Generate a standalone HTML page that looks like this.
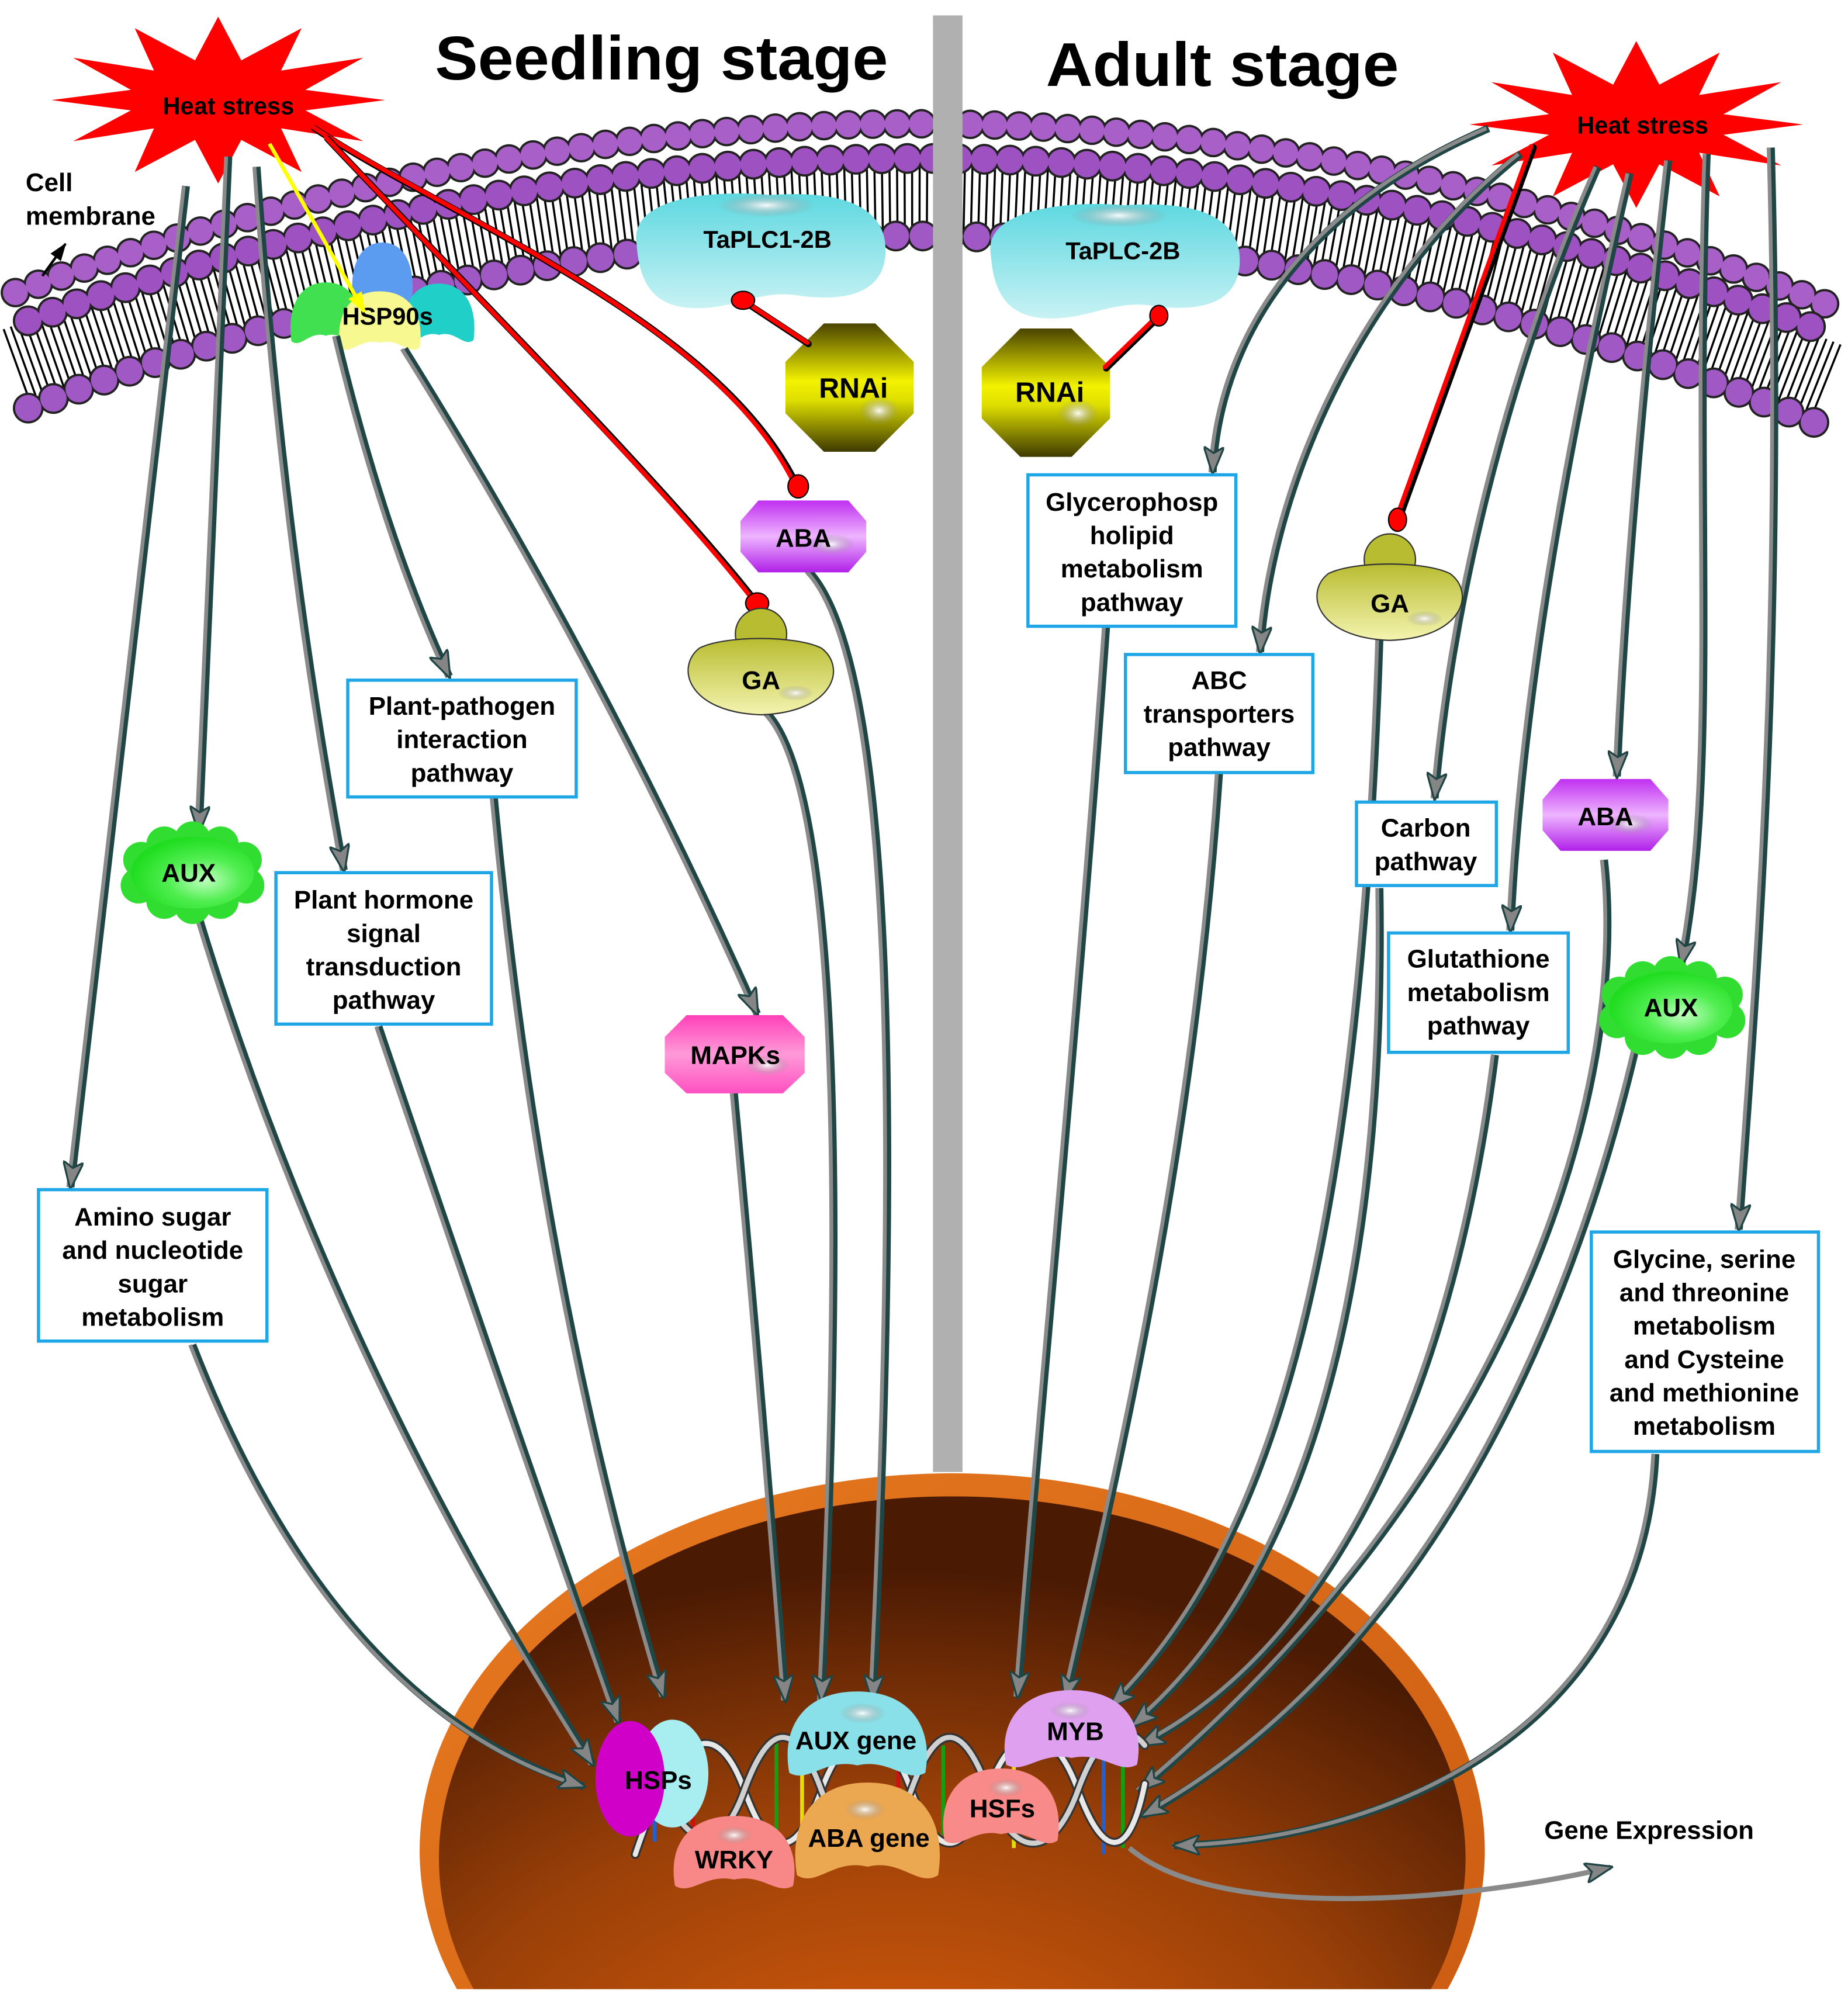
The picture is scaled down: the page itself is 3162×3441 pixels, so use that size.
<!DOCTYPE html>
<html><head><meta charset="utf-8"><style>
html,body{margin:0;padding:0;background:#fff;width:3162px;height:3441px;overflow:hidden;}
svg{display:block;}
text{font-family:"Liberation Sans",Arial,sans-serif;font-weight:bold;fill:#000;}
</style></head><body>
<svg width="3162" height="3441" viewBox="0 0 1440 1567" preserveAspectRatio="none" xmlns="http://www.w3.org/2000/svg">
<defs>
<linearGradient id="oct" x1="0" y1="0" x2="0" y2="1"><stop offset="0" stop-color="#4a4400"/><stop offset="0.45" stop-color="#f2f200"/><stop offset="0.6" stop-color="#dede00"/><stop offset="1" stop-color="#3e3a00"/></linearGradient>
<linearGradient id="aba" x1="0" y1="0" x2="0" y2="1"><stop offset="0" stop-color="#c030f0"/><stop offset="0.5" stop-color="#eeb4ff"/><stop offset="1" stop-color="#b020e8"/></linearGradient>
<linearGradient id="mapk" x1="0" y1="0" x2="0" y2="1"><stop offset="0" stop-color="#ff40b8"/><stop offset="0.5" stop-color="#ff9ad8"/><stop offset="1" stop-color="#ff50c0"/></linearGradient>
<linearGradient id="plc" x1="0" y1="0" x2="0" y2="1"><stop offset="0" stop-color="#5ed8e0"/><stop offset="1" stop-color="#c8f2f4"/></linearGradient>
<linearGradient id="ga" x1="0" y1="0" x2="0" y2="1"><stop offset="0" stop-color="#b8bc30"/><stop offset="1" stop-color="#f4f4b0"/></linearGradient>
<radialGradient id="aux" cx="0.6" cy="0.6" r="0.6"><stop offset="0" stop-color="#c0ffc0"/><stop offset="0.5" stop-color="#50ee50"/><stop offset="1" stop-color="#20dd20"/></radialGradient>
<radialGradient id="hi" cx="0.5" cy="0.5" r="0.5"><stop offset="0" stop-color="#fff" stop-opacity="0.95"/><stop offset="1" stop-color="#888" stop-opacity="0"/></radialGradient>
<radialGradient id="nuc" cx="0.45" cy="0.9" r="0.8"><stop offset="0" stop-color="#e0600c"/><stop offset="0.6" stop-color="#9a4008"/><stop offset="1" stop-color="#4a1a03"/></radialGradient>
<linearGradient id="rim" x1="0" y1="0" x2="1" y2="1"><stop offset="0" stop-color="#e87a20"/><stop offset="1" stop-color="#c85810"/></linearGradient>
<marker id="ah" viewBox="0 0 22 16" refX="20" refY="8" markerWidth="22" markerHeight="16" markerUnits="userSpaceOnUse" orient="auto"><polygon points="0,0 22,8 0,16 5,8" fill="#858585" stroke="#1e4444" stroke-width="1.5"/></marker>
<marker id="ahy" viewBox="0 0 16 12" refX="15" refY="6" markerWidth="16" markerHeight="12" markerUnits="userSpaceOnUse" orient="auto"><polygon points="0,0 16,6 0,12" fill="#ffff00"/></marker>
<marker id="ahk" viewBox="0 0 14 10" refX="13" refY="5" markerWidth="14" markerHeight="10" markerUnits="userSpaceOnUse" orient="auto"><polygon points="0,0 14,5 0,10" fill="#000"/></marker>
<clipPath id="bowlclip"><rect x="0" y="0" width="1440" height="1550"/></clipPath>
<path id="bean" d="M-0.5,0.38 C-0.56,-0.1 -0.4,-0.5 0,-0.5 C0.4,-0.5 0.56,-0.1 0.5,0.38 C0.36,0.5 0.24,0.22 0,0.3 C-0.24,0.22 -0.36,0.5 -0.5,0.38Z"/>
<polygon id="star" points="300,78 238,86 283,110 219,100 235,134 188,109 170,143 152,109 105,134 120,100 57,110 102,86 40,78 102,70 57,45 120,55 105,22 152,47 170,13 188,47 235,22 219,55 283,45 238,70" transform="translate(-170,-78)"/>
<g id="ap" fill="none">
<path d="M145,145 Q100,520 55,925"/>
<path d="M178,122 Q165,400 155,648"/>
<path d="M200,130 Q220,420 268,678"/>
<path d="M262,262 Q300,420 350,527"/>
<path d="M315,272 Q470,520 590,790"/>
<path d="M150,1048 Q260,1330 455,1392"/>
<path d="M155,715 Q260,1060 462,1375"/>
<path d="M295,800 Q390,1080 482,1342"/>
<path d="M385,622 Q420,1000 517,1322"/>
<path d="M572,852 Q595,1100 612,1325"/>
<path d="M597,555 C660,620 655,1000 640,1325"/>
<path d="M630,445 C700,520 700,900 680,1325"/>
<path d="M1160,100 C1020,160 950,260 945,368"/>
<path d="M1185,120 C1060,220 990,380 982,508"/>
<path d="M1245,130 C1170,300 1130,480 1118,622"/>
<path d="M1270,135 C1220,350 1185,550 1177,725"/>
<path d="M1300,125 C1280,300 1265,480 1260,605"/>
<path d="M1330,120 C1320,400 1340,600 1310,752"/>
<path d="M1380,115 C1390,500 1370,750 1355,958"/>
<path d="M862,488 C840,800 810,1100 793,1322"/>
<path d="M950,602 C930,900 870,1150 830,1325"/>
<path d="M1075,497 C1060,950 1000,1200 865,1330"/>
<path d="M1075,692 C1080,1000 1020,1230 882,1345"/>
<path d="M1165,822 C1130,1100 1030,1290 888,1360"/>
<path d="M1250,670 C1270,850 1180,1150 888,1395"/>
<path d="M1275,815 C1220,1050 1100,1300 890,1415"/>
<path d="M1290,1133 C1280,1350 1080,1435 915,1438"/>
</g>
</defs>
<rect width="1440" height="1567" fill="#fff"/>

<!-- nucleus -->
<g clip-path="url(#bowlclip)">
<ellipse cx="742" cy="1442" rx="415" ry="294" fill="url(#rim)"/>
<ellipse cx="742" cy="1448" rx="400" ry="282" fill="url(#nuc)"/>
</g>

<!-- membrane -->
<g fill="none">
<path d="M12,284 Q738,20 1425,296" stroke="#000" stroke-width="58" stroke-dasharray="1.6 4.2"/>
<path d="M12,228 Q738,-40 1425,238" stroke="#222" stroke-width="23" stroke-dasharray="0 19" stroke-linecap="round"/>
<path d="M12,228 Q738,-40 1425,238" stroke="#a860c8" stroke-width="19.5" stroke-dasharray="0 19" stroke-linecap="round"/>
<path d="M22,250 Q738,-8 1425,260" stroke="#222" stroke-width="24" stroke-dasharray="0 20" stroke-linecap="round"/>
<path d="M22,250 Q738,-8 1425,260" stroke="#9e52c2" stroke-width="20.5" stroke-dasharray="0 20" stroke-linecap="round"/>
<path d="M22,318 Q738,42 1425,334" stroke="#222" stroke-width="24" stroke-dasharray="0 21" stroke-linecap="round"/>
<path d="M22,318 Q738,42 1425,334" stroke="#a058c4" stroke-width="20.5" stroke-dasharray="0 21" stroke-linecap="round"/>
</g>
<rect x="727" y="12" width="23" height="1135" fill="#b0b0b0"/>

<!-- titles -->
<text x="339" y="62" font-size="48" textLength="353" lengthAdjust="spacingAndGlyphs">Seedling stage</text>
<text x="815" y="67" font-size="48" textLength="275" lengthAdjust="spacingAndGlyphs">Adult stage</text>
<text x="20" y="149" font-size="20">Cell</text>
<text x="20" y="175" font-size="20">membrane</text>
<path d="M33,215 L51,190" stroke="#000" stroke-width="2" marker-end="url(#ahk)"/>

<!-- heat stress -->
<use href="#star" transform="translate(170,78)" fill="#ff0000"/>
<text x="178" y="89" font-size="19" text-anchor="middle">Heat stress</text>
<use href="#star" transform="translate(1275,97)" fill="#ff0000"/>
<text x="1280" y="104" font-size="19" text-anchor="middle">Heat stress</text>

<!-- PLC -->
<path d="M496,190 C490,152 560,148 600,152 C655,148 692,160 690,198 C688,228 660,236 620,230 C590,226 570,242 538,240 C505,238 498,215 496,190Z" fill="url(#plc)"/>
<ellipse cx="597" cy="160" rx="38" ry="9" fill="url(#hi)"/>
<text x="598" y="193" font-size="19" text-anchor="middle">TaPLC1-2B</text>
<path d="M772,198 C766,162 836,156 876,160 C931,156 968,168 966,206 C964,236 936,244 896,238 C866,234 846,250 814,248 C781,246 774,223 772,198Z" fill="url(#plc)"/>
<ellipse cx="872" cy="168" rx="38" ry="9" fill="url(#hi)"/>
<text x="875" y="202" font-size="19" text-anchor="middle">TaPLC-2B</text>

<!-- RNAi -->
<polygon points="642,252 682,252 712,282 712,322 682,352 642,352 612,322 612,282" fill="url(#oct)"/>
<ellipse cx="685" cy="320" rx="16" ry="11" fill="url(#hi)"/>
<text x="665" y="310" font-size="22" text-anchor="middle">RNAi</text>
<polygon points="795,256 835,256 865,286 865,326 835,356 795,356 765,326 765,286" fill="url(#oct)"/>
<ellipse cx="840" cy="322" rx="16" ry="11" fill="url(#hi)"/>
<text x="818" y="313" font-size="22" text-anchor="middle">RNAi</text>

<!-- HSP90s -->
<g>
<use href="#bean" transform="translate(298,214) scale(46,50)" fill="#5c9cf0"/>
<use href="#bean" transform="translate(254,246) scale(54,52)" fill="#40e050"/>
<use href="#bean" transform="translate(342,246) scale(54,50)" fill="#20d0c8"/>
<use href="#bean" transform="translate(296,252) scale(62,50)" fill="#f8f890"/>
<text x="302" y="253" font-size="19" text-anchor="middle">HSP90s</text>
</g>

<!-- red inhibition lines -->
<g fill="none" stroke-linecap="round">
<path d="M245,100 C350,170 560,250 622,380" stroke="#000" stroke-width="5"/>
<path d="M244,99 C349,169 558,249 620,379" stroke="#f00" stroke-width="3.5"/>
<path d="M255,108 C370,230 520,380 590,470" stroke="#000" stroke-width="5"/>
<path d="M254,107 C369,229 518,379 588,469" stroke="#f00" stroke-width="3.5"/>
<path d="M630,268 L580,235" stroke="#000" stroke-width="5"/>
<path d="M629,267 L579,234" stroke="#f00" stroke-width="3.5"/>
<path d="M862,287 L903,247" stroke="#000" stroke-width="5"/>
<path d="M861,286 L902,246" stroke="#f00" stroke-width="3.5"/>
<path d="M1195,115 L1090,405" stroke="#000" stroke-width="5"/>
<path d="M1193,114 L1088,404" stroke="#f00" stroke-width="3.5"/>
</g>
<ellipse cx="622" cy="379" rx="8" ry="9" fill="#f00" stroke="#000" stroke-width="1"/>
<ellipse cx="590" cy="470" rx="9" ry="8" fill="#f00" stroke="#000" stroke-width="1"/>
<ellipse cx="579" cy="234" rx="9" ry="7" fill="#f00" stroke="#000" stroke-width="1"/>
<ellipse cx="903" cy="246" rx="7" ry="8" fill="#f00" stroke="#000" stroke-width="1"/>
<ellipse cx="1089" cy="405" rx="7" ry="9" fill="#f00" stroke="#000" stroke-width="1"/>
<path d="M210,112 L284,243" stroke="#ffff00" stroke-width="3" fill="none" marker-end="url(#ahy)"/>

<!-- arrows -->
<use href="#ap" stroke="#1f4545" stroke-width="6"/>
<use href="#ap" transform="translate(-1.8,0)" stroke="#8a8a8a" stroke-width="3"/>
<use href="#ap" stroke="none" style="marker-end:url(#ah)"/>
<path d="M880,1440 C950,1500 1150,1480 1255,1455" fill="none" stroke="#8a8a8a" stroke-width="4" marker-end="url(#ah)"/>

<!-- ABA, GA, MAPKs, AUX -->
<polygon points="591,390 661,390 675,406 675,430 661,446 591,446 577,430 577,406" fill="url(#aba)"/>
<ellipse cx="648" cy="424" rx="18" ry="8" fill="url(#hi)"/>
<text x="626" y="426" font-size="20" text-anchor="middle">ABA</text>
<polygon points="1216,607 1286,607 1300,623 1300,647 1286,663 1216,663 1202,647 1202,623" fill="url(#aba)"/>
<ellipse cx="1270" cy="642" rx="18" ry="8" fill="url(#hi)"/>
<text x="1251" y="643" font-size="20" text-anchor="middle">ABA</text>
<polygon points="535,791 610,791 627,808 627,836 610,852 535,852 518,836 518,808" fill="url(#mapk)"/>
<ellipse cx="598" cy="830" rx="18" ry="8" fill="url(#hi)"/>
<text x="573" y="829" font-size="20" text-anchor="middle">MAPKs</text>

<g stroke="#333" stroke-width="1">
<circle cx="593" cy="494" r="20" fill="#b8bc30"/>
<path d="M545,505 C565,495 620,495 640,505 C660,520 650,555 593,557 C536,555 526,520 545,505Z" fill="url(#ga)"/>
<circle cx="1083" cy="436" r="20" fill="#b8bc30"/>
<path d="M1035,447 C1055,437 1110,437 1130,447 C1150,462 1140,497 1083,499 C1026,497 1016,462 1035,447Z" fill="url(#ga)"/>
</g>
<ellipse cx="620" cy="540" rx="14" ry="6" fill="url(#hi)"/>
<text x="593" y="537" font-size="20" text-anchor="middle">GA</text>
<ellipse cx="1110" cy="482" rx="14" ry="6" fill="url(#hi)"/>
<text x="1083" y="477" font-size="20" text-anchor="middle">GA</text>

<g fill="#30dd30">
<circle cx="110" cy="670" r="14"/><circle cx="128" cy="658" r="14"/><circle cx="150" cy="654" r="14"/><circle cx="172" cy="658" r="14"/><circle cx="190" cy="670" r="14"/><circle cx="192" cy="690" r="14"/><circle cx="172" cy="702" r="14"/><circle cx="150" cy="706" r="14"/><circle cx="128" cy="702" r="14"/><circle cx="108" cy="690" r="14"/>
<circle cx="1262" cy="775" r="14"/><circle cx="1280" cy="763" r="14"/><circle cx="1302" cy="759" r="14"/><circle cx="1324" cy="763" r="14"/><circle cx="1344" cy="775" r="14"/><circle cx="1346" cy="795" r="14"/><circle cx="1324" cy="808" r="14"/><circle cx="1302" cy="811" r="14"/><circle cx="1280" cy="808" r="14"/><circle cx="1260" cy="795" r="14"/>
</g>
<ellipse cx="150" cy="680" rx="48" ry="28" fill="url(#aux)"/>
<ellipse cx="1302" cy="785" rx="48" ry="28" fill="url(#aux)"/>
<text x="147" y="687" font-size="20" text-anchor="middle">AUX</text>
<text x="1302" y="792" font-size="20" text-anchor="middle">AUX</text>

<!-- boxes -->
<g fill="#fff" stroke="#1ea6e6" stroke-width="2.5">
<rect x="271" y="530" width="178" height="91"/>
<rect x="215" y="680" width="168" height="118"/>
<rect x="30" y="927" width="178" height="118"/>
<rect x="801" y="370" width="162" height="118"/>
<rect x="877" y="510" width="146" height="92"/>
<rect x="1057" y="625" width="109" height="65"/>
<rect x="1082" y="727" width="140" height="93"/>
<rect x="1240" y="960" width="177" height="171"/>
</g>
<g font-size="20" text-anchor="middle">
<text x="360" y="557">Plant-pathogen</text><text x="360" y="583">interaction</text><text x="360" y="609">pathway</text>
<text x="299" y="708">Plant hormone</text><text x="299" y="734">signal</text><text x="299" y="760">transduction</text><text x="299" y="786">pathway</text>
<text x="119" y="955">Amino sugar</text><text x="119" y="981">and nucleotide</text><text x="119" y="1007">sugar</text><text x="119" y="1033">metabolism</text>
<text x="882" y="398">Glycerophosp</text><text x="882" y="424">holipid</text><text x="882" y="450">metabolism</text><text x="882" y="476">pathway</text>
<text x="950" y="537">ABC</text><text x="950" y="563">transporters</text><text x="950" y="589">pathway</text>
<text x="1111" y="652">Carbon</text><text x="1111" y="678">pathway</text>
<text x="1152" y="754">Glutathione</text><text x="1152" y="780">metabolism</text><text x="1152" y="806">pathway</text>
<text x="1328" y="988">Glycine, serine</text><text x="1328" y="1014">and threonine</text><text x="1328" y="1040">metabolism</text><text x="1328" y="1066">and Cysteine</text><text x="1328" y="1092">and methionine</text><text x="1328" y="1118">metabolism</text>
</g>

<!-- DNA helix -->
<g stroke-width="3">
<line x1="510" y1="1360" x2="510" y2="1435" stroke="#2060d0"/><line x1="540" y1="1350" x2="540" y2="1440" stroke="#d01010"/>
<line x1="605" y1="1355" x2="605" y2="1430" stroke="#10a010"/><line x1="625" y1="1345" x2="625" y2="1440" stroke="#e0e000"/>
<line x1="700" y1="1350" x2="700" y2="1440" stroke="#d01010"/><line x1="735" y1="1360" x2="735" y2="1430" stroke="#10a010"/>
<line x1="790" y1="1350" x2="790" y2="1440" stroke="#e0e000"/><line x1="860" y1="1355" x2="860" y2="1445" stroke="#2060d0"/><line x1="875" y1="1355" x2="875" y2="1440" stroke="#10a010"/>
</g>
<g fill="none" stroke-linecap="round">
<path d="M495,1445 C530,1340 560,1340 580,1395 C600,1450 620,1450 640,1395 C660,1340 690,1340 710,1395 C730,1450 750,1450 770,1395 C790,1340 820,1340 840,1395 C860,1450 880,1450 892,1390" stroke="#333" stroke-width="7"/>
<path d="M495,1445 C530,1340 560,1340 580,1395 C600,1450 620,1450 640,1395 C660,1340 690,1340 710,1395 C730,1450 750,1450 770,1395 C790,1340 820,1340 840,1395 C860,1450 880,1450 892,1390" stroke="#e8e8e8" stroke-width="4"/>
<path d="M500,1350 C530,1450 560,1450 580,1395 C600,1340 620,1340 640,1395 C660,1450 690,1450 710,1395 C730,1340 750,1340 770,1395 C790,1450 820,1450 840,1395 C860,1340 880,1345 892,1360" stroke="#333" stroke-width="7"/>
<path d="M500,1350 C530,1450 560,1450 580,1395 C600,1340 620,1340 640,1395 C660,1450 690,1450 710,1395 C730,1340 750,1340 770,1395 C790,1450 820,1450 840,1395 C860,1340 880,1345 892,1360" stroke="#d0d0d0" stroke-width="4"/>
</g>

<!-- nucleus proteins -->
<ellipse cx="524" cy="1382" rx="28" ry="42" fill="#a8eef0"/>
<ellipse cx="491" cy="1386" rx="27" ry="45" fill="#d000c8"/>
<text x="513" y="1394" font-size="20" text-anchor="middle">HSPs</text>
<use href="#bean" transform="translate(572,1446) scale(92,62)" fill="#f88888"/>
<ellipse cx="572" cy="1430" rx="14" ry="7" fill="url(#hi)"/>
<text x="572" y="1456" font-size="20" text-anchor="middle">WRKY</text>
<use href="#bean" transform="translate(668,1354) scale(106,72)" fill="#8ae0e8"/>
<ellipse cx="672" cy="1335" rx="18" ry="8" fill="url(#hi)"/>
<text x="667" y="1363" font-size="20" text-anchor="middle">AUX gene</text>
<use href="#bean" transform="translate(676,1430) scale(110,82)" fill="#eca850"/>
<ellipse cx="674" cy="1410" rx="16" ry="8" fill="url(#hi)"/>
<text x="677" y="1439" font-size="20" text-anchor="middle">ABA gene</text>
<use href="#bean" transform="translate(780,1410) scale(88,64)" fill="#f88a8a"/>
<ellipse cx="784" cy="1393" rx="14" ry="7" fill="url(#hi)"/>
<text x="781" y="1416" font-size="20" text-anchor="middle">HSFs</text>
<use href="#bean" transform="translate(835,1350) scale(102,66)" fill="#e0a0f0"/>
<ellipse cx="834" cy="1333" rx="16" ry="7" fill="url(#hi)"/>
<text x="838" y="1356" font-size="20" text-anchor="middle">MYB</text>

<text x="1285" y="1433" font-size="20" text-anchor="middle">Gene Expression</text>
</svg>
</body></html>
